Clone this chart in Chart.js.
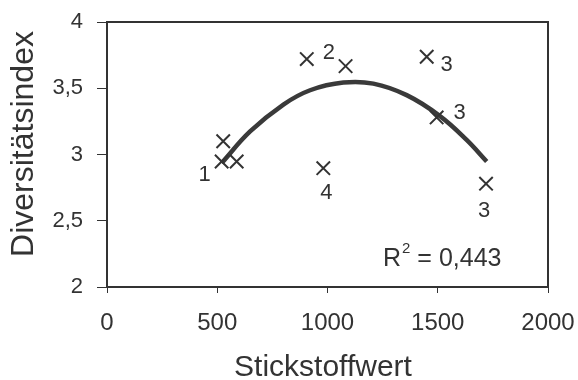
<!DOCTYPE html>
<html>
<head>
<meta charset="utf-8">
<script src="https://cdn.jsdelivr.net/npm/chart.js@4.4.1/dist/chart.umd.min.js"></script>
<style>
    html, body { margin: 0; padding: 0; background: #fff; }
    #wrap { width: 578px; height: 380px; }
</style>
</head>
<body>
<div id="wrap"><canvas id="chart" width="578" height="380"></canvas></div>
<script>
// Messpunkte (Stickstoffwert / Diversitätsindex)
const stickstoff = [527, 520, 588, 906, 1082, 981, 1450, 1495, 1719];
const diversitaet = [3.10, 2.947, 2.947, 3.72, 3.667, 2.897, 3.738, 3.28, 2.78];
const punktLabels = ['', '1', '', '2', '', '4', '3', '3', '3'];

// Trendlinie (Polynom 2. Ordnung)
const trendX = [520, 649, 800, 921, 1072, 1208, 1359, 1510, 1631, 1722];
const trendY = [2.935, 3.174, 3.377, 3.485, 3.543, 3.535, 3.448, 3.29, 3.11, 2.947];

const xTicks = [0, 500, 1000, 1500, 2000];
const yTicks = [2, 2.5, 3, 3.5, 4];
const xTitle = 'Stickstoffwert';
const yTitle = 'Diversitätsindex';
const rQuadrat = '0,443';

const ink = '#333';
const fontFamily = '"Liberation Sans", Arial, sans-serif';

// label offsets in px, same order as the points
const labelOffsets = [[0, 0], [-17, 13], [0, 0], [22, -6], [0, 0], [3, 25], [20, 8], [23, -4], [-2, 27]];

const frameAndLabels = {
    id: 'frameAndLabels',
    afterDatasetsDraw(chart) {
        const ctx = chart.ctx;
        const area = chart.chartArea;
        const xs = chart.scales.x;
        const ys = chart.scales.y;
        ctx.save();
        ctx.strokeStyle = ink;
        ctx.lineWidth = 2;
        ctx.strokeRect(area.left, area.top, area.right - area.left, area.bottom - area.top);

        ctx.fillStyle = ink;
        ctx.font = '22px ' + fontFamily;
        ctx.textAlign = 'center';
        ctx.textBaseline = 'middle';
        punktLabels.forEach((txt, i) => {
            if (!txt) return;
            const px = xs.getPixelForValue(stickstoff[i]) + labelOffsets[i][0];
            const py = ys.getPixelForValue(diversitaet[i]) + labelOffsets[i][1];
            ctx.fillText(txt, px, py);
        });

        // axis titles
        ctx.font = '30px ' + fontFamily;
        ctx.fillText(xTitle, 323, 368);
        ctx.save();
        ctx.translate(24, 144);
        ctx.rotate(-Math.PI / 2);
        ctx.font = '32px ' + fontFamily;
        ctx.fillText(yTitle, 0, 0);
        ctx.restore();

        // R² annotation
        ctx.font = '25px ' + fontFamily;
        ctx.textAlign = 'left';
        const rx = 383, ry = 259;
        ctx.fillText('R', rx, ry);
        const rw = ctx.measureText('R').width;
        ctx.font = '15px ' + fontFamily;
        ctx.fillText('2', rx + rw + 1, ry - 10);
        const sw = ctx.measureText('2').width;
        ctx.font = '25px ' + fontFamily;
        ctx.fillText(' = ' + rQuadrat, rx + rw + sw + 1, ry);
        ctx.restore();
    }
};

new Chart(document.getElementById('chart'), {
    type: 'scatter',
    data: {
        datasets: [
            {
                label: 'Trend',
                type: 'line',
                data: trendX.map((x, i) => ({ x: x, y: trendY[i] })),
                borderColor: '#3a3a3a',
                borderWidth: 4.5,
                pointRadius: 0,
                tension: 0.4,
                fill: false,
                order: 2
            },
            {
                label: 'Diversitätsindex',
                data: stickstoff.map((x, i) => ({ x: x, y: diversitaet[i] })),
                pointStyle: 'crossRot',
                pointRadius: 9.5,
                pointBorderWidth: 2,
                borderColor: ink,
                order: 1
            }
        ]
    },
    options: {
        responsive: false,
        animation: false,
        layout: { padding: { top: 22, right: 30, left: 0, bottom: 0 } },
        plugins: {
            legend: { display: false },
            tooltip: { enabled: false }
        },
        scales: {
            x: {
                type: 'linear',
                min: 0,
                max: 2000,
                afterBuildTicks: (scale) => { scale.ticks = xTicks.map(v => ({ value: v })); },
                afterFit: (scale) => {
                    scale.height = 93;
                    scale.paddingLeft = 0;
                    scale.paddingRight = 0;
                },
                grid: { drawOnChartArea: false, color: ink, tickLength: 6, lineWidth: 1 },
                border: { color: ink, width: 2 },
                ticks: {
                    color: ink,
                    font: { size: 24, family: fontFamily },
                    padding: 16,
                    maxRotation: 0,
                    callback: (v) => String(v)
                }
            },
            y: {
                type: 'linear',
                min: 2,
                max: 4,
                afterBuildTicks: (scale) => { scale.ticks = yTicks.map(v => ({ value: v })); },
                afterFit: (scale) => {
                    scale.width = 107;
                    scale.paddingTop = 0;
                    scale.paddingBottom = 0;
                },
                grid: { drawOnChartArea: false, color: ink, tickLength: 10, lineWidth: 1 },
                border: { color: ink, width: 2 },
                ticks: {
                    color: ink,
                    font: { size: 22, family: fontFamily },
                    padding: 14,
                    callback: (v) => String(v).replace('.', ',')
                }
            }
        }
    },
    plugins: [frameAndLabels]
});
</script>
</body>
</html>
